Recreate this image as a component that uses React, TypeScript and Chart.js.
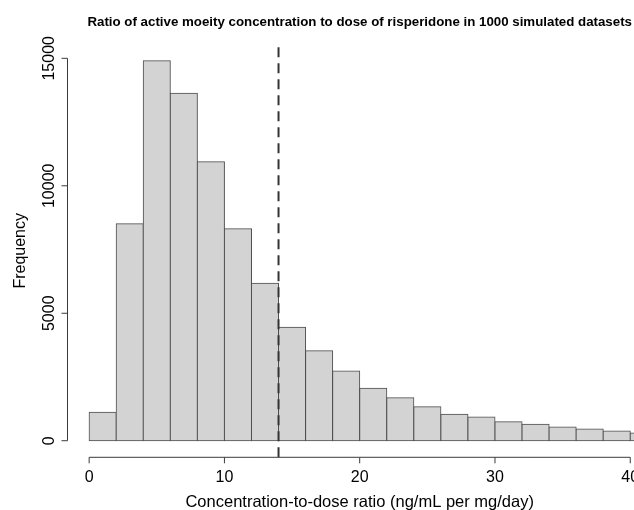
import React, { useEffect, useRef } from "react";
import { Chart, registerables } from "chart.js";

Chart.register(...registerables);

// ---- data ----
const binStarts = [0, 2, 4, 6, 8, 10, 12, 14, 16, 18, 20, 22, 24, 26, 28, 30, 32, 34, 36, 38, 40];
const frequencies = [1114, 8513, 14908, 13629, 10945, 8317, 6175, 4449, 3531, 2734, 2056, 1687, 1334, 1036, 930, 745, 643, 537, 459, 381, 302];
const binWidth = 2;
const xTicks = [0, 10, 20, 30, 40];
const yTicks = [0, 5000, 10000, 15000];
const referenceLine = 14;
const titleText = "Ratio of active moeity concentration to dose of risperidone in 1000 simulated datasets";
const xLabel = "Concentration-to-dose ratio (ng/mL per mg/day)";
const yLabel = "Frequency";

const FONT = "'Liberation Sans', Arial, Helvetica, sans-serif";

const rAxesPlugin = {
  id: "rAxes",
  afterDatasetsDraw(chart: any) {
    const ctx = chart.ctx;
    const { left, right, top, bottom } = chart.chartArea;
    const xs = chart.scales.x;

    // dashed reference line
    ctx.save();
    ctx.beginPath();
    ctx.rect(left, top, right - left, bottom - top);
    ctx.clip();
    ctx.setLineDash([10, 6]);
    ctx.lineWidth = 2;
    ctx.strokeStyle = "#333333";
    const xr = xs.getPixelForValue(referenceLine);
    ctx.beginPath();
    ctx.moveTo(xr, bottom);
    ctx.lineTo(xr, top);
    ctx.stroke();
    ctx.restore();
  },
  afterDraw(chart: any) {
    const ctx = chart.ctx;
    const { left, right, top, bottom } = chart.chartArea;
    const xs = chart.scales.x;
    const ys = chart.scales.y;
    ctx.save();
    ctx.strokeStyle = "#3a3a3a";
    ctx.lineWidth = 1;
    ctx.fillStyle = "#000";

    // y axis
    const y0 = ys.getPixelForValue(yTicks[0]);
    const y1 = ys.getPixelForValue(yTicks[yTicks.length - 1]);
    ctx.beginPath();
    ctx.moveTo(left, y0);
    ctx.lineTo(left, y1);
    yTicks.forEach((t) => {
      const py = ys.getPixelForValue(t);
      ctx.moveTo(left, py);
      ctx.lineTo(left - 6, py);
    });
    ctx.stroke();
    ctx.font = `16px ${FONT}`;
    ctx.textAlign = "center";
    ctx.textBaseline = "alphabetic";
    yTicks.forEach((t) => {
      const py = ys.getPixelForValue(t);
      ctx.save();
      ctx.translate(left - 14, py);
      ctx.rotate(-Math.PI / 2);
      ctx.fillText(String(t), 0, 0);
      ctx.restore();
    });

    // x axis
    const x0 = xs.getPixelForValue(xTicks[0]);
    const x1 = xs.getPixelForValue(xTicks[xTicks.length - 1]);
    ctx.beginPath();
    ctx.moveTo(x0, bottom);
    ctx.lineTo(x1, bottom);
    xTicks.forEach((t) => {
      const px = xs.getPixelForValue(t);
      ctx.moveTo(px, bottom);
      ctx.lineTo(px, bottom + 6);
    });
    ctx.stroke();
    xTicks.forEach((t) => {
      const px = xs.getPixelForValue(t);
      ctx.fillText(String(t), px, bottom + 25);
    });

    // axis titles
    const cx = (left + right) / 2;
    const cy = (top + bottom) / 2;
    ctx.font = `16.5px ${FONT}`;
    ctx.fillText(xLabel, cx, bottom + 50);
    ctx.font = `16px ${FONT}`;
    ctx.save();
    ctx.translate(24.5, cy);
    ctx.rotate(-Math.PI / 2);
    ctx.fillText(yLabel, 0, 0);
    ctx.restore();

    // main title
    ctx.font = `bold 13.3px ${FONT}`;
    ctx.fillText(titleText, cx, 26);
    ctx.restore();
  },
};

export default function App() {
  const canvasRef = useRef<HTMLCanvasElement | null>(null);

  useEffect(() => {
    if (!canvasRef.current) return;
    const data = frequencies.map((f, i) => ({ x: binStarts[i] + binWidth / 2, y: f }));
    const chart = new Chart(canvasRef.current, {
      type: "bar",
      data: {
        datasets: [
          {
            data,
            backgroundColor: "#d3d3d3",
            borderColor: "#4d4d4d",
            borderWidth: 1,
            borderSkipped: false,
            barPercentage: 1,
            categoryPercentage: 1,
            inflateAmount: 0.5,
          } as any,
        ],
      },
      options: {
        responsive: false,
        animation: false,
        events: [],
        layout: { padding: { left: 67.5, right: 48.1, top: 44.3, bottom: 52.7 } },
        plugins: {
          legend: { display: false },
          title: { display: false },
          tooltip: { enabled: false },
        },
        scales: {
          x: { type: "linear", min: -1.6, max: 41.6, display: false, offset: false },
          y: { min: -650, max: 15550, display: false },
        },
      } as any,
      plugins: [rAxesPlugin],
    });
    return () => chart.destroy();
  }, []);

  return (
    <div
      style={{
        position: "fixed",
        left: 0,
        top: 0,
        width: 634,
        height: 510,
        overflow: "hidden",
        background: "#ffffff",
      }}
    >
      <canvas ref={canvasRef} width={700} height={510} style={{ display: "block" }} />
    </div>
  );
}
